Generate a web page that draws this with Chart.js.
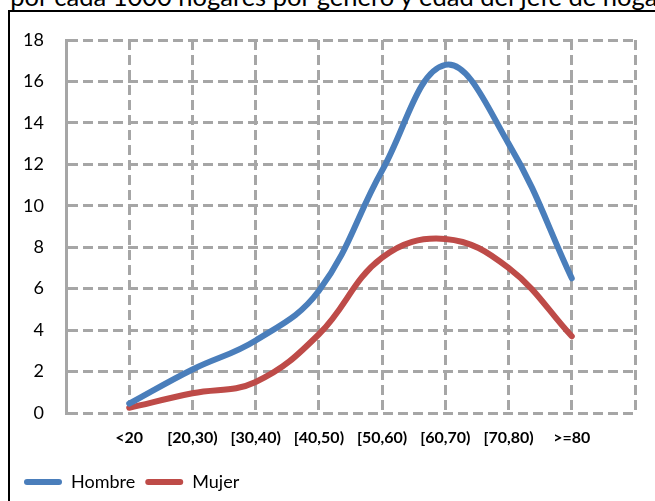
<!DOCTYPE html>
<html>
<head>
<meta charset="utf-8">
<script src="https://cdn.jsdelivr.net/npm/chart.js@4"></script>
<style>
    html, body { margin: 0; padding: 0; background: #fff; overflow: hidden; }
    body { width: 655px; height: 501px; position: relative; }
    #title {
        position: absolute; left: -5px; top: -15px;
        font-family: Lato, sans-serif; font-size: 25.5px; line-height: 22px;
        white-space: nowrap; color: #000;
    }
    #frame {
        position: absolute; left: 8px; top: 10px; width: 700px; height: 600px;
        border: 2px solid #000;
    }
    #wrap { position: absolute; left: 0; top: 0; width: 655px; height: 501px; }
</style>
</head>
<body>
<div id="title">r por cada 1000 hogares por género y edad del jefe de hogar</div>
<div id="frame"></div>
<div id="wrap"><canvas id="chart"></canvas></div>
<script>
// Age groups of the household head
const categories = ['<20', '[20,30)', '[30,40)', '[40,50)', '[50,60)', '[60,70)', '[70,80)', '>=80'];
const hombre = [0.45, 2.1, 3.5, 5.9, 11.7, 16.8, 13.0, 6.5];
const mujer = [0.25, 0.95, 1.5, 3.8, 7.5, 8.4, 7.0, 3.7];
const yTicks = [0, 2, 4, 6, 8, 10, 12, 14, 16, 18];

const gridGray = '#a6a6a6';

// points sit on the gridlines 1..8 of a 0..9 axis
const toPoints = values => values.map((v, i) => ({ x: i + 1, y: v }));

const ctx = document.getElementById('chart').getContext('2d');
const chart = new Chart(ctx, {
    type: 'line',
    data: {
        datasets: [
            {
                label: 'Hombre',
                data: toPoints(hombre),
                borderColor: '#4a7ebb',
                backgroundColor: '#4a7ebb',
                borderWidth: 6,
                borderCapStyle: 'round',
                borderJoinStyle: 'round',
                tension: 0.4,
                pointRadius: 0
            },
            {
                label: 'Mujer',
                data: toPoints(mujer),
                borderColor: '#be4b48',
                backgroundColor: '#be4b48',
                borderWidth: 6,
                borderCapStyle: 'round',
                borderJoinStyle: 'round',
                tension: 0.4,
                pointRadius: 0
            }
        ]
    },
    options: {
        responsive: true,
        maintainAspectRatio: false,
        animation: false,
        layout: {
            padding: { left: 14, right: 20, top: 40, bottom: 0 }
        },
        plugins: {
            tooltip: { enabled: false },
            legend: {
                position: 'bottom',
                align: 'start',
                labels: {
                    boxWidth: 38,
                    boxHeight: 6,
                    padding: 10,
                    color: '#000',
                    useBorderRadius: true,
                    font: { family: 'Lato', size: 18 },
                    generateLabels: function(chart) {
                        return chart.data.datasets.map((ds, i) => ({
                            text: ds.label,
                            fillStyle: ds.borderColor,
                            strokeStyle: ds.borderColor,
                            lineWidth: 0,
                            borderRadius: 3,
                            hidden: false,
                            datasetIndex: i,
                            fontColor: '#000'
                        }));
                    }
                }
            }
        },
        scales: {
            x: {
                type: 'linear',
                min: 0,
                max: 9,
                afterBuildTicks: function(scale) {
                    scale.ticks = Array.from({ length: 10 }, (_, i) => ({ value: i }));
                },
                afterFit: function(scale) { scale.height = 50; },
                grid: {
                    color: gridGray,
                    lineWidth: 3,
                    drawTicks: false
                },
                border: { display: false, dash: [10, 5] },
                ticks: {
                    padding: 15,
                    autoSkip: false,
                    maxRotation: 0,
                    color: '#000',
                    font: { family: 'Lato', size: 16, weight: 'bold' },
                    callback: function(value) {
                        return categories[value - 1] || '';
                    }
                }
            },
            y: {
                min: 0,
                max: 18,
                afterBuildTicks: function(scale) {
                    scale.ticks = yTicks.map(v => ({ value: v }));
                },
                afterFit: function(scale) { scale.width = 52; },
                grid: {
                    color: gridGray,
                    lineWidth: 3,
                    drawTicks: false
                },
                border: { display: true, color: gridGray, width: 3, dash: [10, 5] },
                ticks: {
                    padding: 22,
                    color: '#000',
                    font: { family: 'Lato', size: 18 }
                }
            }
        }
    }
});
</script>
</body>
</html>
